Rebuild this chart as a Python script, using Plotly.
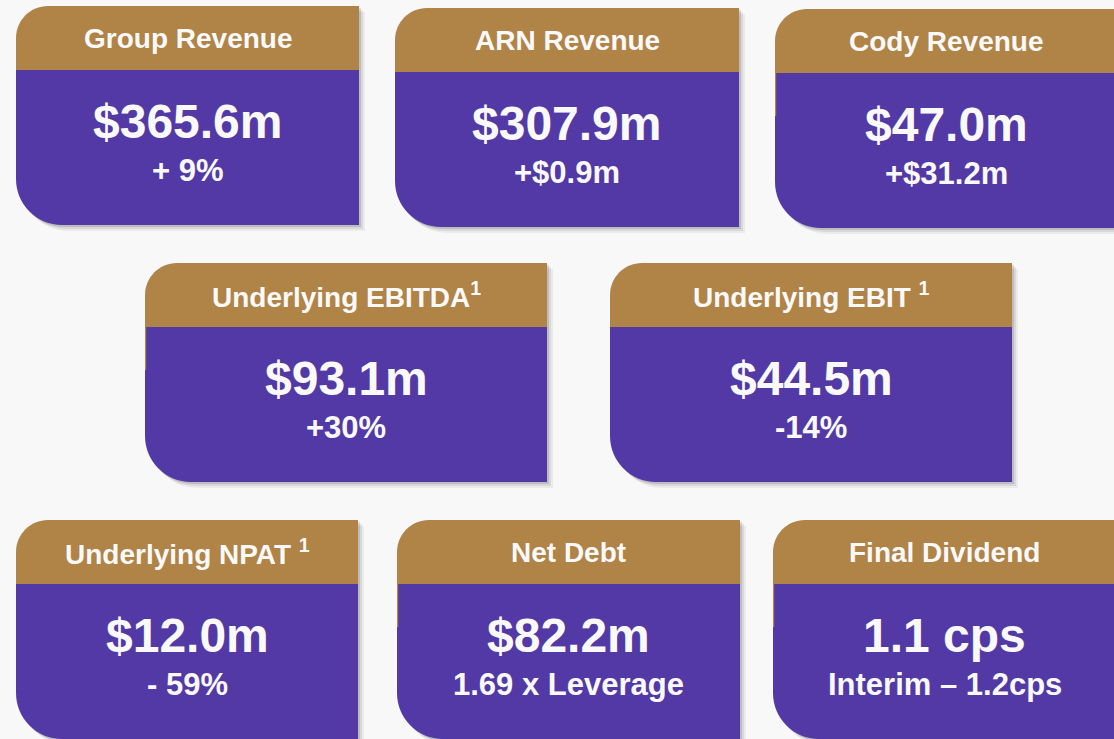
import plotly.graph_objects as go

# ---- data ----
titles = ["Group Revenue", "ARN Revenue", "Cody Revenue",
          "Underlying EBITDA<sup>1</sup>", "Underlying EBIT <sup>1</sup>",
          "Underlying NPAT <sup>1</sup>", "Net Debt", "Final Dividend"]
values = ["$365.6m", "$307.9m", "$47.0m", "$93.1m", "$44.5m",
          "$12.0m", "$82.2m", "1.1 cps"]
changes = ["+ 9%", "+$0.9m", "+$31.2m", "+30%", "-14%",
           "- 59%", "1.69 x Leverage", "Interim \u2013 1.2cps"]

# ---- layout (pixel geometry of the cards) ----
card_x0 = [16, 395, 775, 145, 610, 16, 397, 773]
card_x1 = [359, 739, 1118, 547, 1012, 358, 740, 1116]
card_y0 = [6, 8, 9, 263, 263, 520, 520, 520]
sliver = [False, False, True, True, False, False, True, True]
CARD_H = 219
HEAD_H = 64
RT = 32   # top-left radius
RB = 46   # bottom-left radius
K = 0.5523

GOLD = "#B08347"
PURPLE = "#5339A5"
BG = "#F8F8F8"
WHITE = "#F9F9F9"
FONT = "Liberation Sans, Arial, sans-serif"

W, H = 1114, 739


def header_path(x0, x1, y0, yh):
    return (f"M {x0},{y0+RT} C {x0},{y0+RT-K*RT} {x0+RT-K*RT},{y0} {x0+RT},{y0} "
            f"L {x1},{y0} L {x1},{yh} L {x0},{yh} Z")


def body_path(x0, x1, yh, y1):
    return (f"M {x0},{yh} L {x1},{yh} L {x1},{y1} L {x0+RB},{y1} "
            f"C {x0+RB-K*RB},{y1} {x0},{y1-RB+K*RB} {x0},{y1-RB} Z")


def full_path(x0, x1, y0, y1):
    return (f"M {x0},{y0+RT} C {x0},{y0+RT-K*RT} {x0+RT-K*RT},{y0} {x0+RT},{y0} "
            f"L {x1},{y0} L {x1},{y1} L {x0+RB},{y1} "
            f"C {x0+RB-K*RB},{y1} {x0},{y1-RB+K*RB} {x0},{y1-RB} Z")


fig = go.Figure()
fig.add_trace(go.Scatter(x=[0, W], y=[0, H], mode="markers",
                         marker=dict(opacity=0), hoverinfo="skip", showlegend=False))

shapes = []
annotations = []
for i in range(len(titles)):
    x0, x1, y0 = card_x0[i], card_x1[i], card_y0[i]
    y1 = y0 + CARD_H
    yh = y0 + HEAD_H
    # soft shadow
    for off, alpha in [(6, 0.05), (4, 0.08), (2, 0.12)]:
        shapes.append(dict(type="path", xref="x", yref="y", layer="below",
                           path=full_path(x0 + off, x1 + off, y0 + off, y1 + off),
                           fillcolor=f"rgba(0,0,0,{alpha})", line=dict(width=0)))
    shapes.append(dict(type="path", xref="x", yref="y",
                       path=header_path(x0, x1, y0, yh),
                       fillcolor=GOLD, line=dict(width=0)))
    shapes.append(dict(type="path", xref="x", yref="y",
                       path=body_path(x0, x1, yh, y1),
                       fillcolor=PURPLE, line=dict(width=0)))
    if sliver[i]:
        shapes.append(dict(type="rect", xref="x", yref="y",
                           x0=x0, x1=x0 + 1.2, y0=yh, y1=yh + 43,
                           fillcolor=GOLD, line=dict(width=0)))
    cx = (x0 + x1) / 2
    annotations.append(dict(x=cx, y=y0 + 32, xref="x", yref="y",
                            text=f"<b>{titles[i]}</b>", showarrow=False,
                            font=dict(family=FONT, size=28, color=WHITE),
                            xanchor="center", yanchor="middle"))
    annotations.append(dict(x=cx, y=y0 + 115, xref="x", yref="y",
                            text=f"<b>{values[i]}</b>", showarrow=False,
                            font=dict(family=FONT, size=48, color=WHITE),
                            xanchor="center", yanchor="middle"))
    annotations.append(dict(x=cx, y=y0 + 164, xref="x", yref="y",
                            text=f"<b>{changes[i]}</b>", showarrow=False,
                            font=dict(family=FONT, size=31, color=WHITE),
                            xanchor="center", yanchor="middle"))

fig.update_layout(
    width=W, height=H,
    margin=dict(l=0, r=0, t=0, b=0),
    paper_bgcolor=BG, plot_bgcolor=BG,
    xaxis=dict(range=[0, W], visible=False, fixedrange=True),
    yaxis=dict(range=[H, 0], visible=False, fixedrange=True),
    shapes=shapes, annotations=annotations,
    showlegend=False,
)

fig.write_html("out.html", config={"displayModeBar": False},
               post_script="document.body.style.margin='0';"
                           "document.body.style.background='#F8F8F8';")
